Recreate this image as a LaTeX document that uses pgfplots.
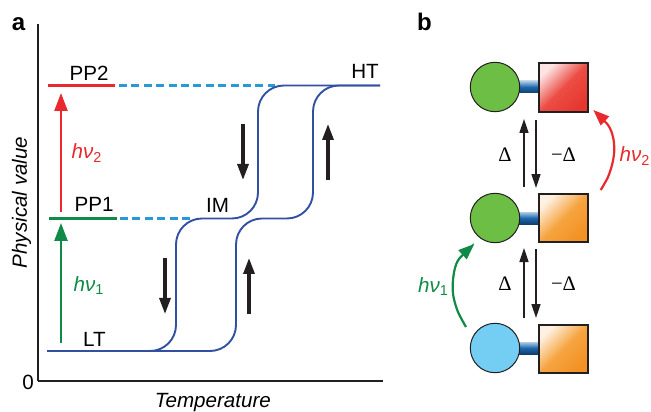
\documentclass[border=0pt]{standalone}
\usepackage{pgfplots}
\pgfplotsset{compat=1.18}
\usetikzlibrary{arrows.meta}
\usepackage{fontspec}
\setmainfont{Liberation Sans}
\newfontfamily\symfont{Liberation Serif}

\definecolor{cRed}{HTML}{E8292D}
\definecolor{cGreen}{HTML}{0F8A47}
\definecolor{cCurve}{HTML}{3250A2}
\definecolor{cDash}{HTML}{2699D6}
\definecolor{cInk}{HTML}{231F20}
\definecolor{ballGreen}{HTML}{6DBE45}
\definecolor{ballBlue}{HTML}{74CDF2}
\definecolor{boxRed}{HTML}{EC4D45}
\definecolor{boxRedDark}{HTML}{E6372F}
\definecolor{boxOrange}{HTML}{F6A440}
\definecolor{boxOrangeDark}{HTML}{F29224}
\definecolor{linkBlue}{HTML}{1C68B0}

\tikzset{
  bigtip/.style={-{Triangle[length=8pt,width=5.5pt]}},
  coltip/.style={-{Triangle[length=9pt,width=6.5pt]}},
  thintip/.style={-{Triangle[length=7pt,width=4.5pt]}},
  arctip/.style={-{Triangle[length=8pt,width=6pt]}},
  lbl/.style={inner sep=0pt, anchor=center},
}

\begin{document}
\begin{tikzpicture}[font=\fontsize{10.3}{12}\selectfont]
% panel b, coordinates in image pixels (1px = 0.5pt), y downwards
\begin{axis}[
  at={(0,0)}, anchor=south west,
  width=325.5pt, height=205.5pt, scale only axis,
  xmin=0, xmax=651, ymin=0, ymax=411, y dir=reverse,
  axis lines=none, clip=false,
]
  % links between ball and box
  \addplot[draw=none, top color=linkBlue!35!white, bottom color=linkBlue!60!black, middle color=linkBlue]
    coordinates {(510,81) (540,81) (540,93) (510,93)} -- cycle;
  \addplot[draw=none, top color=linkBlue!35!white, bottom color=linkBlue!60!black, middle color=linkBlue]
    coordinates {(510,212) (540,212) (540,224) (510,224)} -- cycle;
  \addplot[draw=none, top color=linkBlue!35!white, bottom color=linkBlue!60!black, middle color=linkBlue]
    coordinates {(510,342) (540,342) (540,354) (510,354)} -- cycle;

  % balls
  \addplot[only marks, mark=*, mark size=12.35pt,
    mark options={fill=ballGreen, draw=cInk, line width=0.5pt}]
    coordinates {(495,87) (495,218)};
  \addplot[only marks, mark=*, mark size=12.35pt,
    mark options={fill=ballBlue, draw=cInk, line width=0.5pt}]
    coordinates {(495,348)};

  % boxes
  \addplot[draw=cInk, line width=0.6pt, top color=boxRed!15!white, bottom color=boxRedDark,
    middle color=boxRed, shading angle=45]
    coordinates {(539,63) (588,63) (588,112) (539,112)} -- cycle;
  \addplot[draw=cInk, line width=0.6pt, top color=boxOrange!15!white, bottom color=boxOrangeDark,
    middle color=boxOrange, shading angle=45]
    coordinates {(539,194) (588,194) (588,242) (539,242)} -- cycle;
  \addplot[draw=cInk, line width=0.6pt, top color=boxOrange!15!white, bottom color=boxOrangeDark,
    middle color=boxOrange, shading angle=45]
    coordinates {(539,325) (588,325) (588,373) (539,373)} -- cycle;

  % thermal equilibria
  \addplot[cInk, line width=0.8pt, thintip] coordinates {(524,187) (524,119)};
  \addplot[cInk, line width=0.8pt, thintip] coordinates {(536,120) (536,188)};
  \addplot[cInk, line width=0.8pt, thintip] coordinates {(524,318) (524,248)};
  \addplot[cInk, line width=0.8pt, thintip] coordinates {(536,249) (536,318)};

  % light-induced steps
  \addplot[cRed, line width=1.1pt, smooth, arctip]
    coordinates {(600.7,190) (608,177) (612.5,163) (614.3,150) (613,137) (608,125) (593.3,110)};
  \addplot[cGreen, line width=1.1pt, smooth, arctip]
    coordinates {(466,327) (458,312) (453.5,297) (452.7,284) (454.5,270) (459,259) (474.3,244)};

  \node[lbl] at (axis cs:505,155) {\symfont Δ};
  \node[lbl] at (axis cs:563.5,155) {\symfont −Δ};
  \node[lbl] at (axis cs:505,284) {\symfont Δ};
  \node[lbl] at (axis cs:563.5,284) {\symfont −Δ};
  \node[lbl, text=cRed] at (axis cs:635,156) {\itshape hν\textsubscript{\upshape 2}};
  \node[lbl, text=cGreen] at (axis cs:433.5,287) {\itshape hν\textsubscript{\upshape 1}};

  \node[lbl, font=\fontsize{12}{14}\selectfont\bfseries] at (axis cs:18.5,24) {a};
  \node[lbl, font=\fontsize{12}{14}\selectfont\bfseries] at (axis cs:424.5,21.7) {b};
\end{axis}

% panel a, x in image pixels, y = 381 - pixel row
\begin{axis}[
  at={(19pt,15pt)}, anchor=south west,
  width=172.5pt, height=178.5pt, scale only axis,
  xmin=38, xmax=383, ymin=0, ymax=357,
  axis lines=left, axis line style={cInk, line width=0.6pt, -},
  xtick=\empty, ytick=\empty, clip=false,
  xlabel={\itshape Temperature}, ylabel={\itshape Physical value},
  xlabel style={at={(axis description cs:0.507,-0.0602)}, anchor=center, inner sep=0pt},
  ylabel style={at={(axis description cs:-0.0478,0.5)}, anchor=center, inner sep=0pt},
]
  % photo-induced levels
  \addplot[cRed, line width=1.4pt] coordinates {(48,295.5) (115,295.5)};
  \addplot[cGreen, line width=1.4pt] coordinates {(49,162.5) (117,162.5)};
  \addplot[cDash, line width=1.2pt, dash pattern=on 4pt off 2.2pt] coordinates {(119,295.5) (275,295.5)};
  \addplot[cDash, line width=1.2pt, dash pattern=on 4pt off 2.2pt] coordinates {(120,162.5) (190,162.5)};

  % two-step thermal hysteresis
  \addplot[cCurve, line width=0.95pt, rounded corners=13pt]
    coordinates {(47,30) (176,30) (176,162.5) (258,162.5) (258,295.5) (380,295.5)};
  \addplot[cCurve, line width=0.95pt, rounded corners=13pt]
    coordinates {(47,30) (236,30) (236,162.5) (313,162.5) (313,295.5) (380,295.5)};

  % excitation arrows
  \addplot[cGreen, line width=1.2pt, coltip] coordinates {(61,38) (61,158)};
  \addplot[cRed, line width=1.2pt, coltip] coordinates {(61,169) (61,288)};

  % cooling / heating arrows
  \addplot[cInk, line width=1.6pt, bigtip] coordinates {(165,123) (165,67)};
  \addplot[cInk, line width=1.6pt, bigtip] coordinates {(249,67) (249,123)};
  \addplot[cInk, line width=1.6pt, bigtip] coordinates {(243,257) (243,201)};
  \addplot[cInk, line width=1.6pt, bigtip] coordinates {(328,201) (328,257)};

  \node[lbl] at (axis cs:89,308) {PP2};
  \node[lbl] at (axis cs:94,176.5) {PP1};
  \node[lbl] at (axis cs:94.5,42) {LT};
  \node[lbl] at (axis cs:217.5,176) {IM};
  \node[lbl] at (axis cs:365,309.5) {HT};
  \node[lbl, text=cRed] at (axis cs:87,228) {\itshape hν\textsubscript{\upshape 2}};
  \node[lbl, text=cGreen] at (axis cs:89,95) {\itshape hν\textsubscript{\upshape 1}};
  \node[lbl] at (axis cs:28,-1) {0};
\end{axis}
\pgfresetboundingbox
\path (0,0) rectangle (325.5pt,205.5pt);
\end{tikzpicture}
\end{document}
